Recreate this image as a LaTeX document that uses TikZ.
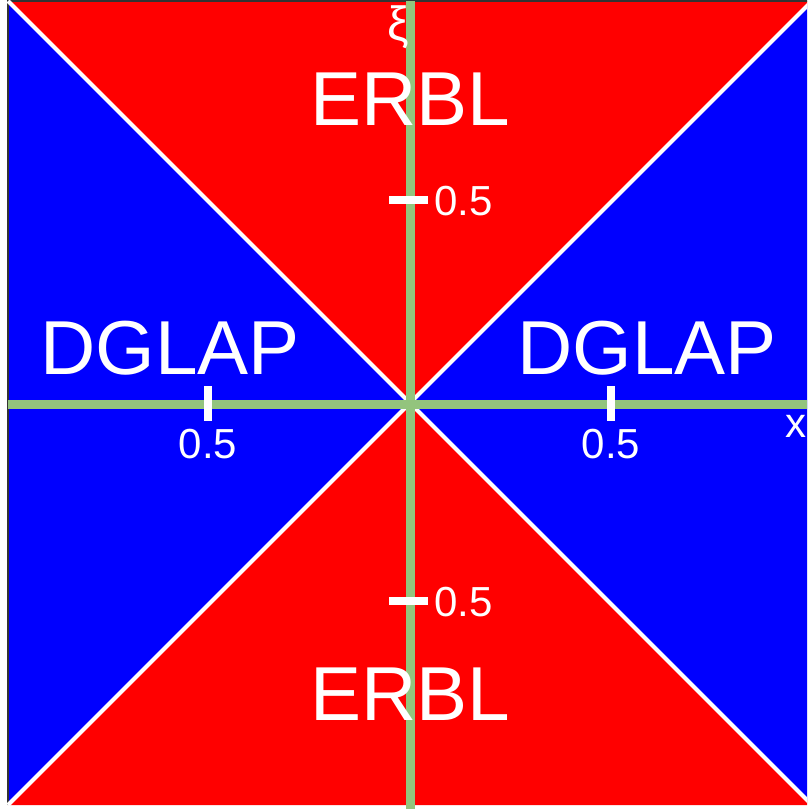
\documentclass[tikz,border=0pt]{standalone}
\usepackage{fontspec}
\setmainfont{Liberation Sans}
\definecolor{erbl}{RGB}{255,0,0}
\definecolor{dglap}{RGB}{0,0,255}
\definecolor{axisgreen}{RGB}{147,196,125}
\begin{document}
\begin{tikzpicture}[x=1pt,y=-1pt,
  bigtext/.style={text=white,inner sep=0pt,anchor=base,font=\fontsize{76.5}{80}\selectfont},
  ticktext/.style={text=white,inner sep=0pt,font=\fontsize{42}{46}\selectfont},
  diag/.style={white,line width=4pt},
  axisline/.style={axisgreen,line width=9pt},
  tickmark/.style={white,line width=8pt}]
\useasboundingbox (0,0) rectangle (807,809);
\clip (0,0) rectangle (807,809);
\fill[white] (0,0) rectangle (807,809);
% regions
\coordinate (C) at (410,403);
\coordinate (TL) at (8,1);
\coordinate (TR) at (812,1);
\coordinate (BL) at (8,805);
\coordinate (BR) at (812,805);
\fill[erbl] (TL) -- (TR) -- (C) -- cycle;
\fill[erbl] (BL) -- (BR) -- (C) -- cycle;
\fill[dglap] (TL) -- (BL) -- (C) -- cycle;
\fill[dglap] (TR) -- (BR) -- (C) -- cycle;
% border
\draw[black!80,line width=1.5pt] (BL) -- (TL) -- (TR);
% diagonals
\draw[diag] (TL) -- (BR);
\draw[diag] (BL) -- (TR);
% axes
\draw[axisline] (410,1) -- (410,809);
\draw[axisline] (8,404) -- (812,404);
% ticks
\draw[tickmark] (389,200) -- (428,200);
\draw[tickmark] (389,601) -- (428,601);
\draw[tickmark] (208,386) -- (208,421);
\draw[tickmark] (611,386) -- (611,421);
% labels
\node[ticktext,anchor=base west] (t1) at (434,215) {0.5};
\node[ticktext,anchor=base west] (t2) at (434,616) {0.5};
\node[ticktext,anchor=base] (t3) at (208,458) {0.5};
\node[ticktext,anchor=base] (t4) at (611,458) {0.5};
\node[ticktext,anchor=base,font=\fontsize{48}{52}\selectfont] (xi) at (398,40) {ξ};
\node[ticktext,anchor=base west] (xl) at (785,437) {x};
\node[bigtext] (e1) at (410,125) {ERBL};
\node[bigtext] (e2) at (410,720) {ERBL};
\node[bigtext] (d1) at (170,374) {DGLAP};
\node[bigtext] (d2) at (647,374) {DGLAP};
\end{tikzpicture}
\end{document}
